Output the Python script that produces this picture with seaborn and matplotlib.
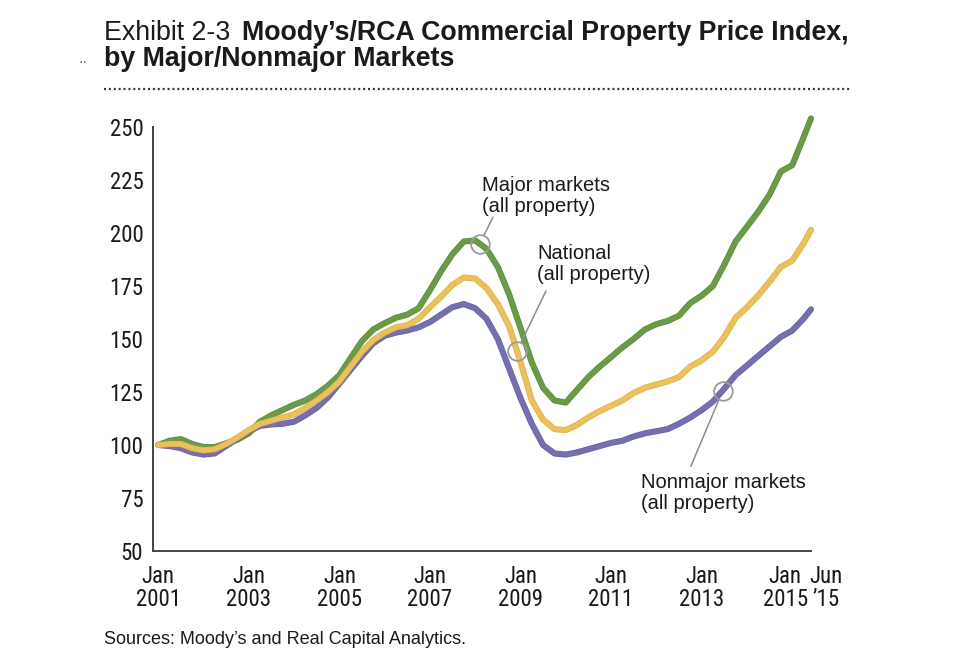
import matplotlib
import numpy as np
import pandas as pd

matplotlib.use("Agg")
import matplotlib.pyplot as plt
import matplotlib.dates as mdates
import matplotlib.patheffects as pe
import matplotlib.transforms as mtransforms
from matplotlib import font_manager as fm
from matplotlib.lines import Line2D

import seaborn as sns

sns.set_theme(style="white")
plt.rcParams["font.family"] = ["Liberation Sans", "DejaVu Sans"]

TEXT = "#1a1a1a"

# the axis labels in the exhibit are set in a condensed face; use one if it is installed
installed = {f.name for f in fm.fontManager.ttflist}
narrow_face = next(
    (n for n in ["Liberation Sans Narrow", "Roboto Condensed", "Open Sans Condensed"] if n in installed),
    None,
)
if narrow_face:
    TICK_FONT = dict(family=[narrow_face, "DejaVu Sans"], fontsize=16.5)
else:
    TICK_FONT = dict(family=["Liberation Sans", "DejaVu Sans"], fontsize=14.5)

# quarterly readings, Jan 2001 .. Apr 2015, then the Jun 2015 end point
dates = list(pd.date_range("2001-01-01", "2015-04-01", freq="QS")) + [pd.Timestamp("2015-06-01")]

major = [
    100, 102, 102.8, 100.5,
    99, 99, 100.8, 102.5,
    105.5, 111, 114, 116.5,
    119, 121, 124, 128,
    133, 141, 149, 154.5,
    157.5, 160, 161.5, 164.5,
    173, 182, 190, 196,
    196.5, 192.5, 184, 171,
    155, 139, 127, 121,
    120, 126, 132, 137,
    141.5, 146, 150, 154.5,
    157, 158.5, 161, 167,
    170.5, 175, 185, 196,
    203, 210, 218, 229,
    232, 245, 254,
]
national = [
    100, 100.5, 100.5, 98.5,
    97.5, 98, 100.5, 103.5,
    107, 110, 111.5, 113,
    114.5, 117.5, 121, 125,
    130, 137, 144, 149.5,
    153, 155.5, 156.5, 159.5,
    165, 170, 175.5, 179,
    178.5, 174, 166.5, 156,
    139, 121, 112, 107.5,
    107, 109.5, 113, 116,
    118.5, 121, 124.5, 127,
    128.5, 130, 132, 137,
    140, 144, 151, 160,
    165, 170.5, 177, 184,
    187, 195, 201.5,
]
nonmajor = [
    100, 99.5, 98.5, 96.5,
    95.5, 96, 99.5, 103,
    106.5, 109, 109.7, 110,
    111, 114, 117.5, 122.5,
    129, 135.5, 142, 148,
    151.5, 153, 154, 155.5,
    158, 161.5, 165, 166.5,
    164.5, 159.5, 150, 136,
    122, 110, 100, 96,
    95.5, 96.5, 98, 99.5,
    101, 102, 104, 105.5,
    106.5, 107.5, 110, 113,
    116.5, 120.5, 126.5, 133,
    137.5, 142, 146.5, 151,
    154, 159.5, 164,
]

series_names = ["Major markets", "Nonmajor markets", "National"]
colors = {"Major markets": "#6b9b47", "Nonmajor markets": "#7470b0", "National": "#eac15c"}
edges = {"Major markets": "#5e8f3e", "Nonmajor markets": "#6864a6", "National": "#deb24c"}

y_ticks = [50, 75, 100, 125, 150, 175, 200, 225, 250]
tick_dates = [pd.Timestamp(f"{y}-01-01") for y in range(2001, 2016)] + [pd.Timestamp("2015-06-01")]
tick_labels = [f"Jan\n{y}" if y % 2 == 1 else "" for y in range(2001, 2016)] + ["Jun\n\u201915"]

# callouts: label, anchor (decimal year, value) on the line, end of leader line, text top-left in px
callouts = [
    ("Major markets\n(all property)", (2008.10, 195.0), (2008.39, 207.5), (482, 176)),
    ("National\n(all property)", (2008.92, 144.4), (2009.56, 172.6), (537, 244)),
    ("Nonmajor markets\n(all property)", (2013.46, 125.5), (2012.76, 90.0), (641, 473)),
]


def year_num(t):
    return mdates.date2num(pd.Timestamp("2001-01-01") + pd.Timedelta(days=(t - 2001) * 365.25))


df = pd.DataFrame(
    {
        "date": dates * 3,
        "value": major + nonmajor + national,
        "market": ["Major markets"] * len(dates) + ["Nonmajor markets"] * len(dates) + ["National"] * len(dates),
    }
)

W, H = 960, 654
fig = plt.figure(figsize=(W / 100, H / 100), dpi=100)
ax = fig.add_axes([153 / W, 1 - 551 / H, (811 - 153) / W, (551 - 127) / H])

sns.lineplot(
    data=df, x="date", y="value", hue="market", hue_order=series_names,
    palette=colors, linewidth=3.3, legend=False, ax=ax,
)
for line, name in zip(ax.lines, series_names):
    line.set_clip_on(False)
    line.set_solid_capstyle("round")
    line.set_path_effects([pe.Stroke(linewidth=4.4, foreground=edges[name]), pe.Normal()])

ax.set_xlim(year_num(2000.883), mdates.date2num(pd.Timestamp("2015-06-01")))
ax.set_ylim(50, 250)
ax.set_yticks(y_ticks)
ax.set_yticklabels([str(v) for v in y_ticks], color=TEXT, **TICK_FONT)
ax.set_xticks(tick_dates)
ax.set_xticklabels(tick_labels, color=TEXT, linespacing=1.0, **TICK_FONT)
ax.set_xlabel("")
ax.set_ylabel("")

for side in ["top", "right"]:
    ax.spines[side].set_visible(False)
for side in ["left", "bottom"]:
    ax.spines[side].set_color("#444444")
    ax.spines[side].set_linewidth(1.4)

ax.tick_params(axis="y", direction="in", length=12, width=1.3, color="#444444", pad=7)
ax.tick_params(axis="x", direction="in", length=7, width=1.3, color="#444444", pad=10)

# nudge the crowded last two labels apart
labels = ax.get_xticklabels()
labels[-2].set_transform(labels[-2].get_transform() + mtransforms.ScaledTranslation(-7 / 100, 0, fig.dpi_scale_trans))
labels[-1].set_transform(labels[-1].get_transform() + mtransforms.ScaledTranslation(15 / 100, 0, fig.dpi_scale_trans))

for text, anchor, end, text_px in callouts:
    ax.plot(year_num(anchor[0]), anchor[1], marker="o", ms=13.4, mfc="none",
            mec="#9a9a9a", mew=1.3, clip_on=False, zorder=5)
    ax.annotate(
        "", xy=(year_num(anchor[0]), anchor[1]), xytext=(year_num(end[0]), end[1]),
        arrowprops=dict(arrowstyle="-", color="#8c8c8c", lw=1.1, shrinkA=0, shrinkB=6.7),
        annotation_clip=False,
    )
    fig.text(text_px[0] / W, 1 - text_px[1] / H, text, fontsize=14.5, color=TEXT,
             ha="left", va="top", linespacing=1.15)

# title block
fig.text(104 / W, 1 - 40 / H, "Exhibit 2-3", fontsize=19.3, color=TEXT, va="baseline")
fig.text(242 / W, 1 - 40 / H, "Moody\u2019s/RCA Commercial Property Price Index,", fontsize=19.3,
         fontweight="bold", color=TEXT, va="baseline")
fig.text(104 / W, 1 - 66 / H, "by Major/Nonmajor Markets", fontsize=19.3, fontweight="bold",
         color=TEXT, va="baseline")
fig.text(78 / W, 1 - 62 / H, "\u00b7\u00b7", fontsize=10, color="#555555", va="center")
fig.add_artist(Line2D([104 / W, 852 / W], [1 - 89 / H] * 2, color="#333333", lw=1.6,
                      linestyle=(0, (0.9, 1.3))))

fig.text(104 / W, 1 - 644 / H, "Sources: Moody\u2019s and Real Capital Analytics.", fontsize=13,
         color=TEXT, va="baseline")

fig.savefig("out.png", dpi=100, facecolor="white")
